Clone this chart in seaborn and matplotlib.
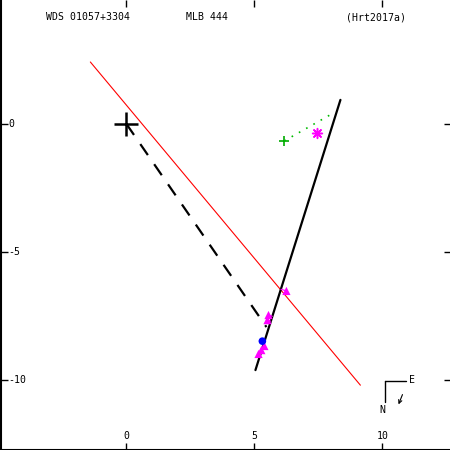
import matplotlib
matplotlib.use("Agg")
import matplotlib.pyplot as plt
import seaborn as sns
import numpy as np

# ---- data ----
obs_x = [6.25, 5.55, 5.51, 5.39, 5.27, 5.16]
obs_y = [-6.52, -7.46, -7.66, -8.67, -8.83, -8.98]
blue_x = [5.31]
blue_y = [-8.48]
fit_x = [5.04, 8.36]          # black solid (apparent motion line)
fit_y = [-9.61, 0.94]
red_x = [-1.41, 9.14]         # red line
red_y = [2.42, -10.20]
dash_x = [0.0, 5.47]          # dashed line from primary
dash_y = [0.0, -7.93]
green_x = [6.17, 8.09]        # green dotted
green_y = [-0.66, 0.43]
star_x = [7.46]
star_y = [-0.35]
xticks = [0, 5, 10]
yticks = [0, -5, -10]
title_left = "WDS 01057+3304"
title_mid = "MLB 444"
title_right = "(Hrt2017a)"

sns.set_style("white")
plt.rcParams["font.family"] = ["DejaVu Sans Mono"]
plt.rcParams["text.color"] = "black"

fig = plt.figure(figsize=(4.5, 4.5), dpi=100)
ax = fig.add_axes([0.5/450, 0, 1, 1])
xmin, xmax = -4.92, 12.66
ymin, ymax = -12.73, 4.84
ax.set_xlim(xmin, xmax)
ax.set_ylim(ymin, ymax)

sns.lineplot(x=red_x, y=red_y, ax=ax, color="red", linewidth=0.8, sort=False)
sns.lineplot(x=fit_x, y=fit_y, ax=ax, color="black", linewidth=1.6, sort=False)
sns.lineplot(x=dash_x, y=dash_y, ax=ax, color="black", linewidth=1.6, sort=False,
             dashes=False, linestyle=(0, (6, 5)))
sns.lineplot(x=green_x, y=green_y, ax=ax, color="#00bb00", linewidth=1.2, sort=False,
             linestyle=(0, (1, 4)))
sns.scatterplot(x=green_x[:1], y=green_y[:1], ax=ax, marker="+", color="#00aa00",
                s=45, linewidth=1.2)
sns.scatterplot(x=[0], y=[0], ax=ax, marker="+", color="black", s=300, linewidth=1.8)

# residual segments to the fit line
fx = np.array(fit_x); fy = np.array(fit_y)
d = np.array([fx[1]-fx[0], fy[1]-fy[0]]); d = d/np.linalg.norm(d)
for px, py in zip(obs_x, obs_y):
    t = (px-fx[0])*d[0] + (py-fy[0])*d[1]
    qx, qy = fx[0]+t*d[0], fy[0]+t*d[1]
    ax.plot([px, qx], [py, qy], color="magenta", linewidth=0.8)

sns.scatterplot(x=obs_x, y=obs_y, ax=ax, marker="^", color="magenta", s=35,
                edgecolor="none", zorder=5)
sns.scatterplot(x=blue_x, y=blue_y, ax=ax, marker="o", color="blue", s=30,
                edgecolor="none", zorder=6)
sns.scatterplot(x=star_x, y=star_y, ax=ax, marker=(8, 2, 0), color="magenta", s=50,
                linewidth=1.1, zorder=6)

# axes styling
for s in ["top", "right"]:
    ax.spines[s].set_visible(False)
for s in ["left", "bottom"]:
    ax.spines[s].set_color("black")
    ax.spines[s].set_linewidth(1.5)
ax.set_xticks(xticks)
ax.set_yticks(yticks)
ax.tick_params(direction="in", length=5, width=1, color="black",
               top=True, right=True, left=True, bottom=True,
               labelbottom=False, labelleft=False)
ax.grid(False)

fs = 7.1
for v in xticks:
    ax.text(v, ymin + 0.55, str(v), ha="center", va="center", fontsize=fs)
for v in yticks:
    ax.text(0.018, (v - ymin) / (ymax - ymin), str(v), transform=ax.transAxes,
            ha="left", va="center", fontsize=fs)

ax.text(45/450, 1 - 17/450, title_left, transform=ax.transAxes, ha="left", va="center", fontsize=fs)
ax.text(185/450, 1 - 17/450, title_mid, transform=ax.transAxes, ha="left", va="center", fontsize=fs)
ax.text(345/450, 1 - 17/450, title_right, transform=ax.transAxes, ha="left", va="center", fontsize=fs)

# compass
def fx_(p): return p / 450
def fy_(p): return 1 - p / 450
ax.plot([fx_(384), fx_(405)], [fy_(381), fy_(381)], transform=ax.transAxes, color="black", linewidth=1)
ax.plot([fx_(384), fx_(384)], [fy_(381), fy_(402)], transform=ax.transAxes, color="black", linewidth=1)
ax.text(fx_(412), fy_(380), "E", transform=ax.transAxes, ha="center", va="center", fontsize=fs)
ax.text(fx_(382), fy_(410), "N", transform=ax.transAxes, ha="center", va="center", fontsize=fs)
ax.annotate("", xy=(fx_(397), fy_(407)), xytext=(fx_(403), fy_(392)),
            xycoords="axes fraction", textcoords="axes fraction",
            arrowprops=dict(arrowstyle="->", color="black", lw=0.8, mutation_scale=6))

fig.savefig("out.png", dpi=100)
